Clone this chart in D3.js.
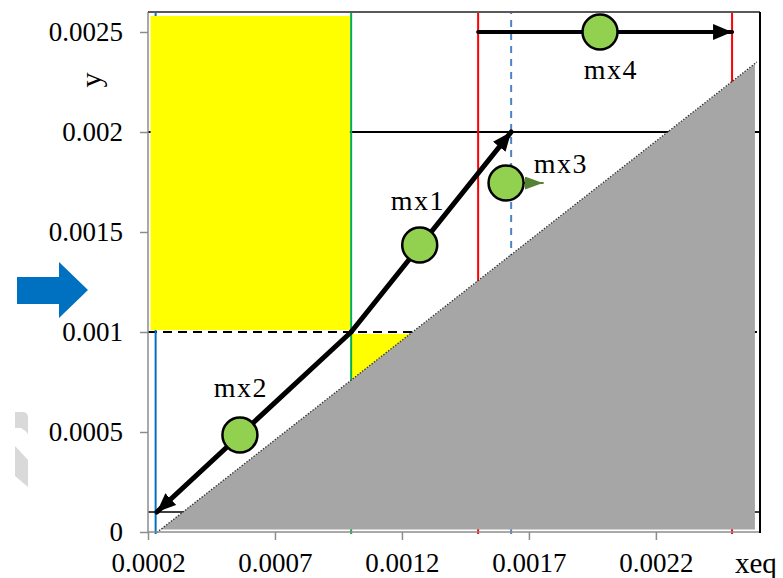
<!DOCTYPE html>
<html>
<head>
<meta charset="utf-8">
<script src="https://cdn.jsdelivr.net/npm/d3@7"></script>
<style>
  body { margin: 0; background: #fff; }
  svg text { font-family: "Liberation Serif", "Times New Roman", Times, "DejaVu Serif", serif; fill: #000; }
</style>
</head>
<body>
<div id="chart"></div>
<script>

/* data */
var xTicks = [0.0002, 0.0007, 0.0012, 0.0017, 0.0022]
var yTicks = [0, 0.0005, 0.001, 0.0015, 0.002, 0.0025]

var vLineNames = ["blue", "green", "red1", "blueDash", "red2"]
var vLineX = [0.00023, 0.001, 0.0015, 0.00163, 0.0025]

var hLineNames = ["low", "mid", "high"]
var hLineY = [0.0001, 0.001, 0.002]

var yellowRectX = [0.00021, 0.000995]
var yellowRectY = [0.00101, 0.00258]
var yellowTriX = [0.001, 0.00124, 0.001]
var yellowTriY = [0.00099, 0.00099, 0.00076]

var eqX = [0.00025, 0.00259]  // gray region edge
var eqY = [0.000012, 0.00234]

var markerNames = ["mx1", "mx2", "mx3", "mx4"]
var markerX = [0.00127, 0.000562, 0.00161, 0.00198]
var markerY = [0.001435, 0.000485, 0.001745, 0.0025]
var labelX = [0.001263, 0.000566, 0.001826, 0.002023]
var labelY = [0.00161, 0.000675, 0.001795, 0.002265]

var arrowNames = ["mx1", "mx2", "mx3", "mx4"]
var arrowX0 = [0.001, 0.001, 0.00161, 0.0015]
var arrowY0 = [0.001, 0.001, 0.001745, 0.0025]
var arrowX1 = [0.00163, 0.000235, 0.001755, 0.0025]
var arrowY1 = [0.002, 0.0001, 0.001745, 0.0025]

/* styles */
var lineStyle = {
  blue: { color: "#0070C0", dash: null },
  green: { color: "#00B050", dash: null },
  red1: { color: "#FF0000", dash: null },
  blueDash: { color: "#4A86C5", dash: "7,6" },
  red2: { color: "#FF0000", dash: null },
  low: { color: "#000", dash: null, width: 1.5 },
  mid: { color: "#000", dash: "9,6", width: 2.2 },
  high: { color: "#000", dash: null, width: 2 }
}
var arrowStyle = {
  mx1: { color: "#000", width: 5, head: "headBlack" },
  mx2: { color: "#000", width: 5, head: "headBlack" },
  mx3: { color: "#548235", width: 2, head: "headGreen" },
  mx4: { color: "#000", width: 4, head: "headBlack" }
}
var serif = '"Liberation Serif", "Times New Roman", Times, "DejaVu Serif", serif'

var width = 783
    height = 578
    plot = { left: 148, right: 760, top: 12, bottom: 532 }

var x = d3.scaleLinear().domain([0.0002, 0.00261]).range([plot.left, plot.right])
var y = d3.scaleLinear().domain([0, 0.0026]).range([plot.bottom, plot.top])

var svg = d3.select("#chart").append("svg")
  .attr("width", width)
  .attr("height", height)

var defs = svg.append("defs")
function addHead(id, color, len, wid) {
  defs.append("marker")
    .attr("id", id)
    .attr("markerUnits", "userSpaceOnUse")
    .attr("viewBox", "0 0 " + len + " " + wid)
    .attr("refX", len)
    .attr("refY", wid / 2)
    .attr("markerWidth", len)
    .attr("markerHeight", wid)
    .attr("orient", "auto")
    .append("path")
    .attr("d", "M0,0 L" + len + "," + wid / 2 + " L0," + wid + " Z")
    .style("fill", color)
}
addHead("headBlack", "#000", 19, 16)
addHead("headGreen", "#548235", 18, 13)

/* decorations outside the plot */
svg.append("path")
  .attr("d", "M17,277 L59,277 L59,262 L88,290 L59,318 L59,304 L17,304 Z")
  .style("fill", "#0070C0")
svg.append("path")
  .attr("d", "M15,412 L24,412 Q28,413 28,418 L28,434 Q25,430 21,428 L15,428 Z M15,446 L28,460 L28,487 L15,476 Z")
  .style("fill", "#D9D9D9")

/* yellow regions */
function yellowRect() {
  svg.append("rect")
    .attr("x", x(yellowRectX[0]))
    .attr("y", y(yellowRectY[1]))
    .attr("width", x(yellowRectX[1]) - x(yellowRectX[0]))
    .attr("height", y(yellowRectY[0]) - y(yellowRectY[1]))
    .style("fill", "#FFFF00")
}

svg.append("path")
  .datum(d3.range(yellowTriX.length))
  .attr("d", d3.line().x(function(i) { return x(yellowTriX[i]) }).y(function(i) { return y(yellowTriY[i]) }))
  .style("fill", "#FFFF00")

/* horizontal reference lines */
svg.selectAll(".hLine").data(hLineY).enter()
  .append("line")
  .attr("class", "hLine")
  .attr("x1", x(0.0002))
  .attr("x2", x(0.00261))
  .attr("y1", function(d) { return y(d) })
  .attr("y2", function(d) { return y(d) })
  .style("stroke", function(d, i) { return lineStyle[hLineNames[i]].color })
  .style("stroke-width", function(d, i) { return lineStyle[hLineNames[i]].width })
  .style("stroke-dasharray", function(d, i) { return lineStyle[hLineNames[i]].dash })

/* vertical reference lines */
svg.selectAll(".vLine").data(vLineX).enter()
  .append("line")
  .attr("class", "vLine")
  .attr("x1", function(d) { return x(d) })
  .attr("x2", function(d) { return x(d) })
  .attr("y1", y(0) + 2)
  .attr("y2", y(0.0026))
  .style("stroke", function(d, i) { return lineStyle[vLineNames[i]].color })
  .style("stroke-width", 2)
  .style("stroke-dasharray", function(d, i) { return lineStyle[vLineNames[i]].dash })

// the yellow block hides the lines behind it
yellowRect()

/* gray region under the equilibrium line */
svg.append("path")
  .attr("d", "M" + x(eqX[0]) + "," + y(eqY[0]) + " L" + x(eqX[1]) + "," + y(eqY[1]) + " L" + x(eqX[1]) + "," + y(eqY[0]) + " Z")
  .style("fill", "#A6A6A6")
svg.append("line")
  .attr("x1", x(eqX[0]) - 4)
  .attr("y1", y(eqY[0]) + 3)
  .attr("x2", x(eqX[1]) + 2)
  .attr("y2", y(eqY[1]) - 2)
  .style("stroke", "#333")
  .style("stroke-width", 1.3)
  .style("stroke-dasharray", "1.5,1.5")

/* arrows */
svg.selectAll(".arrow").data(arrowNames).enter()
  .append("line")
  .attr("class", "arrow")
  .attr("x1", function(d, i) { return x(arrowX0[i]) })
  .attr("y1", function(d, i) { return y(arrowY0[i]) })
  .attr("x2", function(d, i) { return x(arrowX1[i]) })
  .attr("y2", function(d, i) { return y(arrowY1[i]) })
  .style("stroke", function(d) { return arrowStyle[d].color })
  .style("stroke-width", function(d) { return arrowStyle[d].width })
  .style("stroke-linecap", "round")
  .attr("marker-end", function(d) { return "url(#" + arrowStyle[d].head + ")" })

/* markers and labels */
svg.selectAll(".mark").data(markerNames).enter()
  .append("circle")
  .attr("class", "mark")
  .attr("cx", function(d, i) { return x(markerX[i]) })
  .attr("cy", function(d, i) { return y(markerY[i]) })
  .attr("r", 17.5)
  .style("fill", "#92D050")
  .style("stroke", "#000")
  .style("stroke-width", 2.5)

svg.selectAll(".markLabel").data(markerNames).enter()
  .append("text")
  .attr("class", "markLabel")
  .text(function(d) { return d })
  .attr("text-anchor", "middle")
  .attr("x", function(d, i) { return x(labelX[i]) })
  .attr("y", function(d, i) { return y(labelY[i]) })
  .style("font-family", serif)
  .style("font-size", "28px")
  .style("letter-spacing", "1.5px")

/* axes */
var fmt = function(d) { return d === 0 ? "0" : String(+d.toFixed(4)) }

var xAxis = svg.append("g")
  .attr("transform", "translate(0," + plot.bottom + ")")
  .call(d3.axisBottom(x).tickValues(xTicks).tickFormat(fmt).tickSize(8).tickPadding(13))
var yAxis = svg.append("g")
  .attr("transform", "translate(" + plot.left + ",0)")
  .call(d3.axisLeft(y).tickValues(yTicks).tickFormat(fmt).tickSize(8).tickPadding(17))

svg.selectAll(".domain").remove()
svg.selectAll(".tick line").style("stroke", "#8C8C8C").style("stroke-width", 1.5)
svg.selectAll(".tick text").style("font-size", "27px").style("font-family", serif)

svg.append("line")
  .attr("x1", plot.left).attr("x2", plot.left)
  .attr("y1", plot.top).attr("y2", plot.bottom)
  .style("stroke", "#8C8C8C").style("stroke-width", 1.5)
svg.append("line")
  .attr("x1", plot.left).attr("x2", plot.right)
  .attr("y1", plot.bottom).attr("y2", plot.bottom)
  .style("stroke", "#8C8C8C").style("stroke-width", 1.5)
svg.append("line")
  .attr("x1", plot.left).attr("x2", plot.right)
  .attr("y1", plot.top).attr("y2", plot.top)
  .style("stroke", "#595959").style("stroke-width", 2)
svg.append("line")
  .attr("x1", plot.right).attr("x2", plot.right)
  .attr("y1", plot.top).attr("y2", plot.bottom + 1)
  .style("stroke", "#000").style("stroke-width", 2)

svg.append("text")
  .text("xeq")
  .attr("x", 735)
  .attr("y", 573)
  .style("font-family", serif)
  .style("font-size", "29px")

svg.append("text")
  .text("y")
  .attr("text-anchor", "middle")
  .attr("transform", "translate(101,80) rotate(-90)")
  .style("font-family", serif)
  .style("font-size", "30px")

</script>
</body>
</html>
